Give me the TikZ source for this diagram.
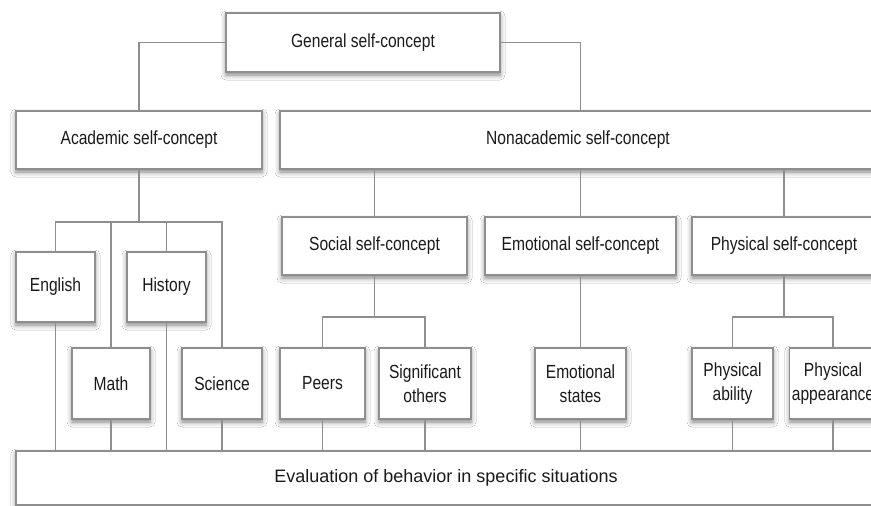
\documentclass[tikz,border=0pt]{standalone}
\usepackage{fontspec}
\setmainfont{Liberation Sans}[FakeStretch=0.82]
\newfontfamily\evalfont{Liberation Sans}
\usetikzlibrary{shadows.blur,calc}
\definecolor{edge}{HTML}{8E8E8E}
\definecolor{ink}{HTML}{1A1A1A}
\tikzset{
  box/.style={draw=edge, line width=1.1pt, fill=white, text=ink,
    font=\fontsize{19}{24.5}\selectfont, align=center, inner sep=2pt,
    blur shadow={shadow xshift=0pt, shadow yshift=-3pt, shadow blur radius=5pt, shadow opacity=50}},
  link/.style={draw=edge, line width=1.1pt}
}
\begin{document}
\begin{tikzpicture}[x=1pt,y=-1pt]
\useasboundingbox (0,0) rectangle (871,506);
\clip (0,0) rectangle (871,506);
\fill[white] (0,0) rectangle (871,506);
% boxes
\node[box, minimum width=274pt, minimum height=59pt] (gen) at (363,42.5) {General self-concept};
\node[box, minimum width=246pt, minimum height=58pt] (acad) at (139,140) {Academic self-concept};
\node[box, minimum width=596pt, minimum height=58pt] (nonac) at (578,140) {Nonacademic self-concept};
\node[box, minimum width=185pt, minimum height=58pt] (social) at (374.5,246) {Social self-concept};
\node[box, minimum width=191pt, minimum height=58pt] (emot) at (580.5,246) {Emotional self-concept};
\node[box, minimum width=184pt, minimum height=58pt] (phys) at (784,246) {Physical self-concept};
\node[box, minimum width=79pt, minimum height=70pt] (english) at (55.5,287) {English};
\node[box, minimum width=79pt, minimum height=70pt] (history) at (166.5,287) {History};
\node[box, minimum width=78pt, minimum height=71pt] (math) at (111,383.5) {Math};
\node[box, minimum width=80pt, minimum height=71pt] (science) at (222,383.5) {Science};
\node[box, minimum width=85pt, minimum height=71pt] (peers) at (322.5,383.5) {Peers};
\node[box, minimum width=92pt, minimum height=71pt] (sig) at (425,383.5) {Significant\\others};
\node[box, minimum width=91pt, minimum height=71pt] (emst) at (580.5,383.5) {Emotional\\states};
\node[box, minimum width=81pt, minimum height=71pt] (pabil) at (732.5,383.5) {Physical\\ability};
\node[box, minimum width=86pt, minimum height=71pt] (pappe) at (833,383.5) {Physical\\appearance};
\node[box, minimum width=860pt, minimum height=54pt, font=\evalfont\fontsize{18}{24}\selectfont] (eval) at (446,478) {Evaluation of behavior in specific situations};
% bus points
\coordinate (abus) at (139,222);
\coordinate (sbus) at (374.5,317);
\coordinate (pbus) at (784,317);
% connectors
\draw[link] (gen.west) -| (acad.north);
\draw[link] (gen.east) -| (nonac.north -| emot.north);
\draw[link] (acad.south) -- (abus);
\draw[link] (english.north) |- (abus) -| (science.north);
\draw[link] (math.north) -- (math.north |- abus);
\draw[link] (history.north) -- (history.north |- abus);
\draw[link] (nonac.south -| social.north) -- (social.north);
\draw[link] (nonac.south -| emot.north) -- (emot.north);
\draw[link] (nonac.south -| phys.north) -- (phys.north);
\draw[link] (social.south) -- (sbus);
\draw[link] (peers.north) |- (sbus) -| (sig.north);
\draw[link] (emot.south) -- (emst.north);
\draw[link] (phys.south) -- (pbus);
\draw[link] (pabil.north) |- (pbus) -| (pappe.north);
\foreach \n in {english,history,math,science,peers,sig,emst,pabil,pappe}
  \draw[link] (\n.south) -- (\n.south |- eval.north);
\end{tikzpicture}
\end{document}
